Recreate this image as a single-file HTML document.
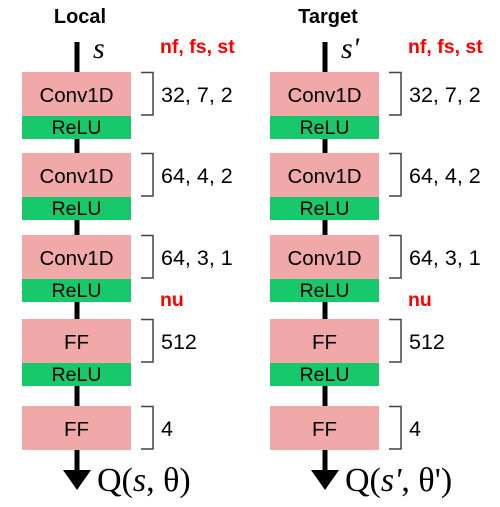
<!DOCTYPE html>
<html><head><style>
body{margin:0;background:#fff;}
svg{display:block;font-family:"Liberation Sans",sans-serif;}
</style></head><body>
<svg width="500" height="507" viewBox="0 0 500 507">
<g id="root"></g>
</svg>
<script>
const columns=["Local","Target"];
const inputs=["s","s'"];
const outVars=["s","s'"];
const outThetas=["θ","θ'"];
const layers=["Conv1D","Conv1D","Conv1D","FF","FF"];
const params=["32, 7, 2","64, 4, 2","64, 3, 1","512","4"];
const hasRelu=[true,true,true,true,false];
const tops=[72,153,235,319,406];
const NS="http://www.w3.org/2000/svg";
const root=document.getElementById('root');
function mk(tag,attrs,parent,text){const e=document.createElementNS(NS,tag);for(const k in attrs)e.setAttribute(k,attrs[k]);if(text!==undefined)e.textContent=text;(parent||root).appendChild(e);return e;}
columns.forEach((c,ci)=>{
  const ox=ci*248;
  const g=mk('g',{});
  
  
  const t=mk('text',{x:ox+80,y:23,'text-anchor':'middle','font-size':20,'font-weight':'bold'},g,c);
  
  
  mk('rect',{x:ox+74.5,y:42,width:5,height:430,fill:'#000'},g);
  const inp=mk('text',{x:ox+93,y:58,'font-size':30,'font-style':'italic','font-family':'Liberation Serif,serif'},g,inputs[ci]);
  
  
  const hd=mk('text',{x:ox+160,y:53,'font-size':19.5,'font-weight':'bold',fill:'#f00'},g,'nf, fs, st');
  
  
  const nu=mk('text',{x:ox+160,y:306,'font-size':19.5,'font-weight':'bold',fill:'#f00'},g,'nu');
  
  
  layers.forEach((L,i)=>{
    const y=tops[i];
    const r=mk('rect',{x:ox+22,y:y,width:109,height:44,fill:'#f0a8a8'},g);
    
    
    mk('text',{x:ox+76.5,y:y+30,'text-anchor':'middle','font-size':20.5},g,L);
    if(hasRelu[i]){
      const rr=mk('rect',{x:ox+22,y:y+44,width:109,height:23,fill:'#17c96a'},g);
      
      
      mk('text',{x:ox+76.5,y:y+62,'text-anchor':'middle','font-size':19.5},g,'ReLU');
    }
    const b=mk('path',{d:`M${ox+141} ${y+0.5}H${ox+153}V${y+43}H${ox+141}`,fill:'none',stroke:'#444','stroke-width':1.5},g);
    
    
    const p=mk('text',{x:ox+161,y:y+30,'font-size':21.5},g,params[i]);
    
    
  });
  const a=mk('path',{d:`M${ox+63} 470H${ox+91}L${ox+77} 490Z`,fill:'#000'},g);
  
  
  const o=mk('text',{x:ox+97,y:491,'font-size':34,'font-family':'Liberation Serif,serif'},g);
  mk('tspan',{},o,'Q(');
  mk('tspan',{'font-style':'italic'},o,outVars[ci]);
  mk('tspan',{},o,', '+outThetas[ci]+')');
  
  
});
</script>
</body></html>
